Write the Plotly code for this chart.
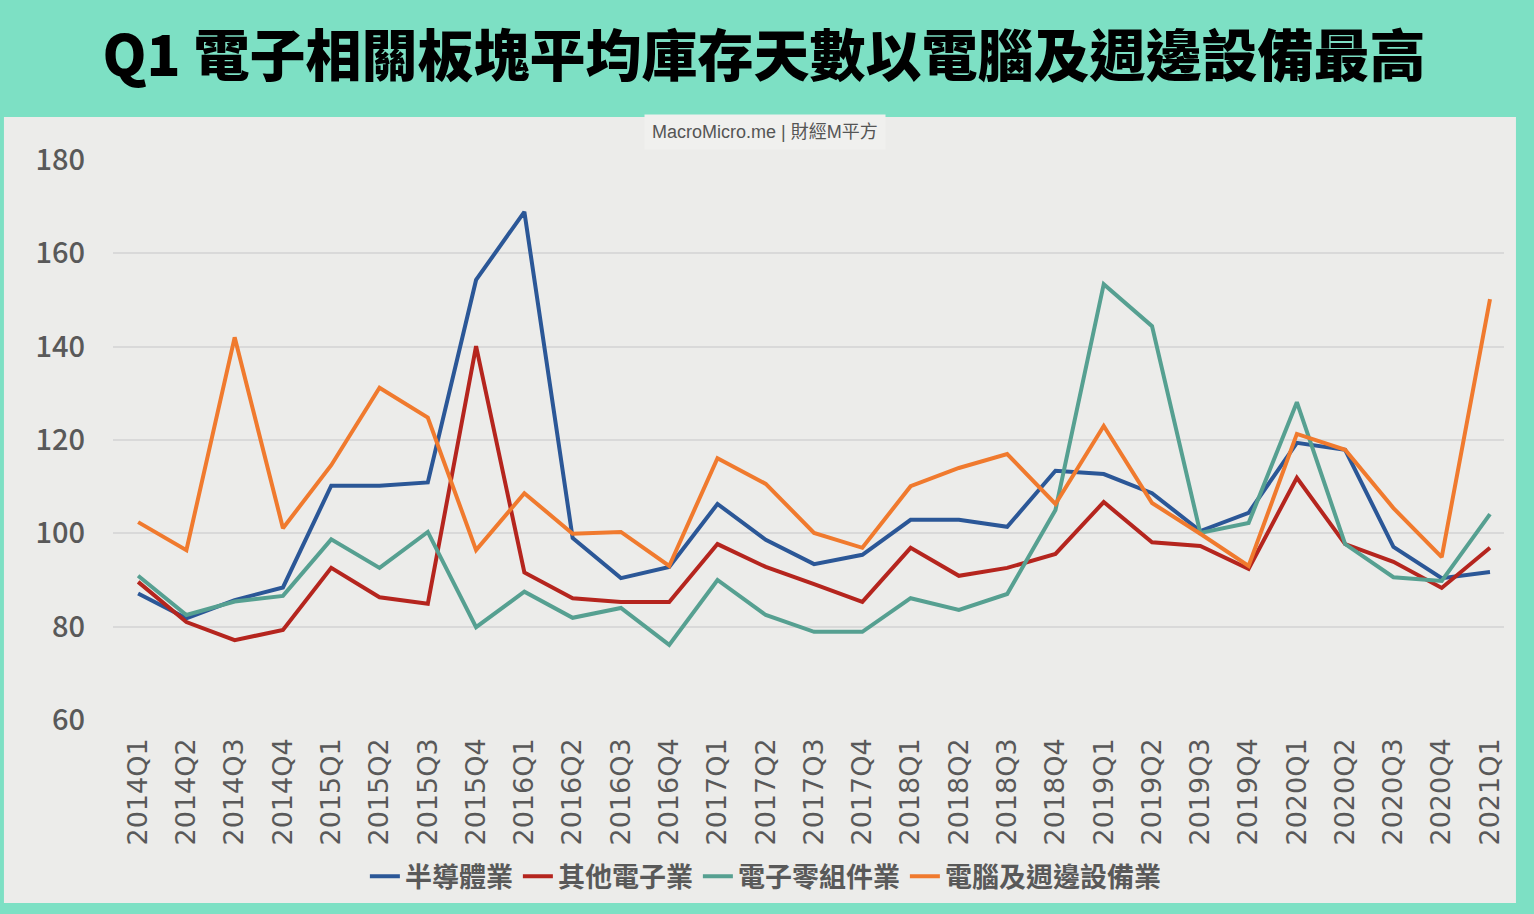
import plotly.graph_objs as go

# quarters on the x axis
quarters = [
    "2014Q1", "2014Q2", "2014Q3", "2014Q4",
    "2015Q1", "2015Q2", "2015Q3", "2015Q4",
    "2016Q1", "2016Q2", "2016Q3", "2016Q4",
    "2017Q1", "2017Q2", "2017Q3", "2017Q4",
    "2018Q1", "2018Q2", "2018Q3", "2018Q4",
    "2019Q1", "2019Q2", "2019Q3", "2019Q4",
    "2020Q1", "2020Q2", "2020Q3", "2020Q4",
    "2021Q1",
]

# average inventory days per sector
semiconductor = [
    87.1, 81.8, 85.7, 88.4, 110.2, 110.2, 110.9, 154.3,
    168.9, 99.0, 90.4, 92.8, 106.3, 98.6, 93.4, 95.4,
    102.9, 102.9, 101.4, 113.4, 112.7, 108.6, 100.5, 104.4,
    119.4, 117.9, 97.1, 90.4, 91.7,
]
other_electronics = [
    89.6, 81.0, 77.1, 79.3, 92.6, 86.3, 84.9, 140.1,
    91.6, 86.1, 85.3, 85.3, 97.7, 92.8, 89.1, 85.3,
    96.9, 90.9, 92.6, 95.6, 106.7, 98.1, 97.3, 92.4,
    111.9, 97.7, 93.9, 88.3, 96.9,
]
components = [
    90.9, 82.5, 85.4, 86.6, 98.7, 92.6, 100.3, 79.9,
    87.5, 81.9, 84.0, 76.1, 90.0, 82.5, 78.9, 78.9,
    86.1, 83.6, 87.0, 105.0, 153.4, 144.4, 100.1, 102.2,
    128.1, 97.7, 90.6, 89.8, 104.1,
]
computers = [
    102.4, 96.4, 142.0, 101.1, 114.6, 131.2, 124.8, 96.4,
    108.6, 99.9, 100.3, 93.0, 116.1, 110.6, 100.1, 96.9,
    110.1, 114.0, 117.0, 106.3, 123.0, 106.5, 99.9, 93.0,
    121.3, 117.9, 105.4, 94.9, 150.2,
]

series = [
    ("半導體業", semiconductor, "#2B5797"),
    ("其他電子業", other_electronics, "#B5251E"),
    ("電子零組件業", components, "#56A091"),
    ("電腦及週邊設備業", computers, "#F07A2E"),
]

MINT = "#7DE0C4"
PANEL = "#ECECEA"
TEXT_GRAY = "#595959"
CJK = "Noto Sans CJK TC"
CJK_MEDIUM = "Noto Sans CJK TC Medium, Noto Sans CJK TC"

fig = go.Figure()

for name, values, color in series:
    fig.add_trace(
        go.Scatter(
            x=quarters,
            y=values,
            mode="lines",
            name=name,
            line=dict(color=color, width=4),
        )
    )

# gray panel behind the chart
fig.add_shape(
    type="rect",
    xref="paper",
    yref="paper",
    x0=-0.0784,
    x1=1.0086,
    y0=-0.327,
    y1=1.0768,
    fillcolor=PANEL,
    line=dict(width=0),
    layer="below",
)

# watermark
fig.add_annotation(
    text="MacroMicro.me | 財經M平方",
    xref="paper",
    yref="paper",
    x=0.469,
    y=1.05,
    yanchor="middle",
    showarrow=False,
    font=dict(family="Liberation Sans, " + CJK, size=18, color="#555555"),
    bgcolor="#F0F0EE",
    borderpad=7,
)

fig.update_layout(
    width=1534,
    height=914,
    margin=dict(l=113, r=30, t=160, b=194),
    paper_bgcolor=MINT,
    plot_bgcolor=PANEL,
    title=dict(
        text="Q1 電子相關板塊平均庫存天數以電腦及週邊設備最高",
        x=0.498,
        xanchor="center",
        y=0.938,
        yanchor="middle",
        font=dict(family=CJK, size=56, color="#000000", weight=900),
    ),
    showlegend=True,
    legend=dict(
        orientation="h",
        x=0.469,
        xanchor="center",
        y=-0.28,
        yanchor="middle",
        bgcolor="rgba(0,0,0,0)",
        font=dict(family=CJK, size=27, color=TEXT_GRAY, weight="bold"),
        itemwidth=30,
    ),
    xaxis=dict(
        type="category",
        range=[-0.52, 28.29],
        showgrid=False,
        zeroline=False,
        showline=False,
        ticks="",
        tickangle=-90,
        ticklabelstandoff=12,
        tickfont=dict(family="DejaVu Sans", size=27, color=TEXT_GRAY),
    ),
    yaxis=dict(
        range=[60, 180],
        dtick=20,
        showgrid=True,
        gridcolor="#D9D9D9",
        gridwidth=2,
        zeroline=False,
        showline=False,
        ticks="",
        ticklabelstandoff=27,
        tickfont=dict(family=CJK_MEDIUM, size=29, color=TEXT_GRAY),
    ),
)

fig.write_html(
    "out.html",
    config={"displayModeBar": False},
    post_script="document.body.style.margin='0';",
)
